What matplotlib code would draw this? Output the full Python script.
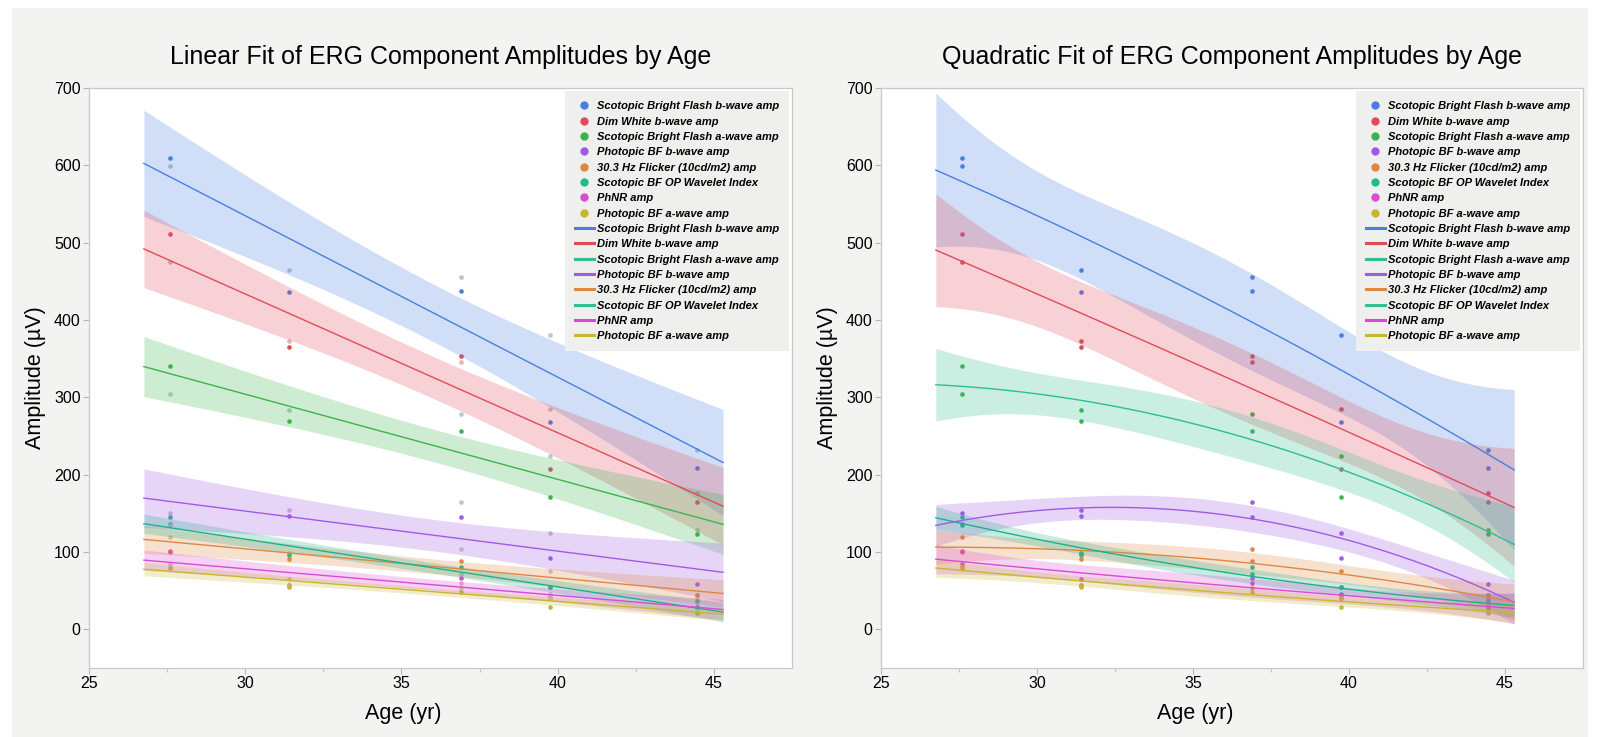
import numpy as np
import matplotlib
matplotlib.use('Agg')
import matplotlib.pyplot as plt
from matplotlib.lines import Line2D
from matplotlib.patches import Rectangle
from matplotlib.font_manager import FontProperties

plt.rcParams['font.family'] = ['Liberation Sans', 'DejaVu Sans']

# ages of the subjects (two eyes / two recordings per age)
ages = [27.6, 31.4, 36.9, 39.75, 44.45]

names = ['Scotopic Bright Flash b-wave amp', 'Dim White b-wave amp',
         'Scotopic Bright Flash a-wave amp', 'Photopic BF b-wave amp',
         '30.3 Hz Flicker (10cd/m2) amp', 'Scotopic BF OP Wavelet Index',
         'PhNR amp', 'Photopic BF a-wave amp']

# first value set = shown coloured in the linear panel, second = greyed out there
scot_bf_b_1 = [610, 436, 438, 268, 208]
scot_bf_b_2 = [599, 465, 456, 380, 232]
dim_white_b_1 = [511, 365, 354, 207, 164.5]
dim_white_b_2 = [475, 373, 346, 285, 176]
scot_bf_a_1 = [341, 269.5, 256, 170.5, 123]
scot_bf_a_2 = [304, 283, 278, 224, 129]
phot_bf_b_1 = [136, 147, 145.5, 92, 59]
phot_bf_b_2 = [150, 154, 165, 124, 45]
flicker_1 = [100, 90.4, 88.6, 55, 44]
flicker_2 = [118.8, 97, 104, 75.7, 40]
op_index_1 = [145.5, 95.6, 81, 54.6, 36]
op_index_2 = [135, 99, 72, 46, 30]
phnr_1 = [101.6, 57.6, 67, 41, 29]
phnr_2 = [84, 64.6, 60, 44, 27]
phot_bf_a_1 = [78.8, 54.3, 48.6, 29.2, 21.5]
phot_bf_a_2 = [80, 56, 54, 40, 24]

series_1 = [scot_bf_b_1, dim_white_b_1, scot_bf_a_1, phot_bf_b_1,
            flicker_1, op_index_1, phnr_1, phot_bf_a_1]
series_2 = [scot_bf_b_2, dim_white_b_2, scot_bf_a_2, phot_bf_b_2,
            flicker_2, op_index_2, phnr_2, phot_bf_a_2]

point_colors = ['#4a7fe0', '#e04b5a', '#3cb44b', '#a05be6',
                '#dd8840', '#23b98f', '#d94bd4', '#c8b62f']
linear_line_colors = ['#4a7fe0', '#e04b5a', '#3cb44b', '#a05be6',
                      '#dd8840', '#1fb08a', '#d94bd4', '#c8b62f']
quad_line_colors = ['#4a7fe0', '#e04b5a', '#2dbf8f', '#a05be6',
                    '#dd8840', '#1fb08a', '#d94bd4', '#c8b62f']
legend_line_colors = ['#4a7fe0', '#e04b5a', '#2dbf8f', '#a05be6',
                      '#dd8840', '#2dbf8f', '#d94bd4', '#c8b62f']

T95 = {5: 2.571, 6: 2.447, 7: 2.365, 8: 2.306, 9: 2.262, 10: 2.228}


def fit_band(x, y, deg, xs):
    x = np.asarray(x, float)
    y = np.asarray(y, float)
    xc = x.mean()
    X = np.vander(x - xc, deg + 1)
    coef = np.linalg.lstsq(X, y, rcond=None)[0]
    dof = len(x) - deg - 1
    s2 = np.sum((y - X @ coef) ** 2) / dof
    cov = s2 * np.linalg.inv(X.T @ X)
    Xs = np.vander(xs - xc, deg + 1)
    pred = Xs @ coef
    se = np.sqrt(np.einsum('ij,jk,ik->i', Xs, cov, Xs))
    t = T95[dof]
    return pred, pred - t * se, pred + t * se


def faded(c):
    rgb = np.array(matplotlib.colors.to_rgb(c))
    return tuple(0.22 * rgb + 0.78 * 0.84)


W, H = 1600, 737
fig = plt.figure(figsize=(16, 7.37), dpi=100)
fig.patch.set_facecolor('white')
fig.patches.append(Rectangle((12 / W, 0), 1 - 24 / W, 1 - 8 / H, transform=fig.transFigure,
                             facecolor='#f3f3f1', edgecolor='none', zorder=-10))

ax_l = fig.add_axes([89 / W, 69 / H, (792 - 89) / W, 580 / H])
ax_r = fig.add_axes([881 / W, 69 / H, (1583 - 881) / W, 580 / H])

span = max(ages) - min(ages)
xs = np.linspace(min(ages) - 0.05 * span, max(ages) + 0.05 * span, 200)
x_all = np.array(ages + ages)

panels = [(ax_l, 1, linear_line_colors, 'Linear Fit of ERG Component Amplitudes by Age', 403),
          (ax_r, 2, quad_line_colors, 'Quadratic Fit of ERG Component Amplitudes by Age', 1195)]

leg_font = FontProperties(family='Liberation Sans', weight='bold', style='italic', size=8.0)

for ax, deg, lcols, title, xlab_x in panels:
    ax.set_facecolor('white')
    for i in range(len(names)):
        pc = point_colors[i]
        y1 = np.array(series_1[i], float)
        y2 = np.array(series_2[i], float)
        if deg == 1:
            ax.scatter(ages, y2, s=11, color=faded(pc), linewidths=0, zorder=2)
        else:
            ax.scatter(ages, y2, s=11, color=pc, linewidths=0, zorder=2)
        ax.scatter(ages, y1, s=11, color=pc, linewidths=0, zorder=2)
        pred, lo, hi = fit_band(x_all, np.concatenate([y1, y2]), deg, xs)
        ax.fill_between(xs, lo, hi, color=lcols[i], alpha=0.25, linewidth=0, zorder=3)
        ax.plot(xs, pred, color=lcols[i], lw=1.0, zorder=4)

    ax.set_xlim(25, 47.5)
    ax.set_ylim(-50, 700)
    ax.set_xticks([25, 30, 35, 40, 45])
    ax.set_xticks([27.5, 32.5, 37.5, 42.5], minor=True)
    ax.set_yticks(np.arange(0, 701, 100))
    ax.tick_params(axis='both', which='major', length=4, width=0.8, color='#b5b5b5',
                   labelsize=11.5, pad=2)
    ax.tick_params(axis='x', which='minor', length=3, width=0.8, color='#c5c5c5')
    for sp in ax.spines.values():
        sp.set_color('#c8c8c8')
        sp.set_linewidth(0.9)

    handles = [Line2D([], [], marker='o', ls='none', color=c, markersize=5) for c in point_colors]
    handles += [Line2D([], [], color=c, lw=2.2) for c in legend_line_colors]
    leg = ax.legend(handles, names + names, loc='upper right', prop=leg_font,
                    frameon=True, fancybox=False, facecolor='#efefed', edgecolor='none',
                    framealpha=1, borderaxespad=0.3, borderpad=0.9, labelspacing=0.48,
                    handlelength=1.7, handletextpad=0.25)
    leg.set_zorder(10)

    bb = ax.get_position()
    fig.text((bb.x0 + bb.x1) / 2, 1 - 64 / H, title, ha='center', va='baseline', fontsize=18)
    fig.text(xlab_x / W, 1 - 719 / H, 'Age (yr)', ha='center', va='baseline', fontsize=15.5)
    fig.text((bb.x0 * W - 53) / W, (bb.y0 + bb.y1) / 2, 'Amplitude (µV)', rotation=90,
             ha='center', va='center', fontsize=15.5)

fig.savefig('out.png', dpi=100, facecolor=fig.get_facecolor())
